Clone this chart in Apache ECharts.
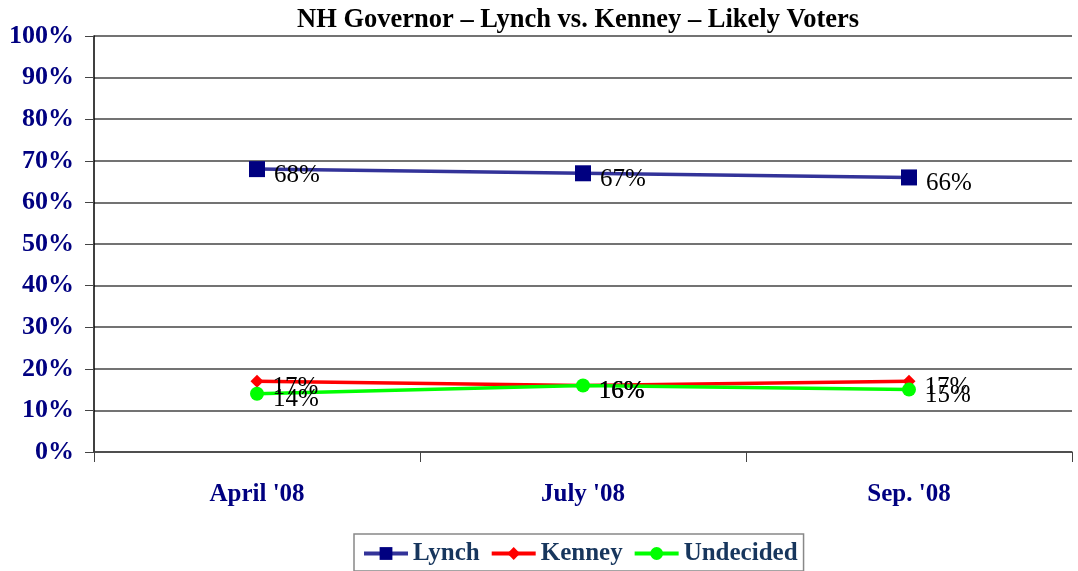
<!DOCTYPE html>
<html>
<head>
<meta charset="utf-8">
<title>NH Governor</title>
<script src="https://cdn.jsdelivr.net/npm/echarts@6/dist/echarts.min.js"></script>
<style>
  html, body { margin: 0; padding: 0; background: #fff; }
  #main { width: 1078px; height: 571px; }
</style>
</head>
<body>
<div id="main"></div>
<script type="text/javascript">
var categories = ["April '08", "July '08", "Sep. '08"];
var lynch = [68, 67, 66];
var kenney = [17, 16, 17];
var undecided = [14, 16, 15];

var serif = '"Liberation Serif", "Times New Roman", serif';
var chart = echarts.init(document.getElementById('main'));

function lineSeries(name, data, lineColor, markColor, symbol, size) {
    return {
        name: name,
        type: 'line',
        data: data,
        symbol: symbol,
        symbolSize: size,
        lineStyle: { color: lineColor, width: 3.5 },
        itemStyle: { color: markColor },
        label: {
            show: true,
            position: 'right',
            offset: [4, 6],
            formatter: '{c}%',
            fontFamily: serif,
            fontSize: 25,
            color: '#000'
        }
    };
}

chart.setOption({
    animation: false,
    title: {
        text: 'NH Governor \u2013 Lynch vs. Kenney \u2013 Likely Voters',
        left: 292,
        top: 2,
        textStyle: { fontFamily: serif, fontSize: 26.5, fontWeight: 'bold', color: '#000' }
    },
    grid: { left: 94, right: 6, top: 36, bottom: 119 },
    legend: {
        bottom: 0,
        left: 354,
        itemWidth: 44,
        itemHeight: 16,
        itemGap: 10,
        padding: [7, 6, 5, 8],
        borderColor: '#888',
        borderWidth: 1.5,
        lineStyle: { width: 4 },
        textStyle: { fontFamily: serif, fontSize: 25, fontWeight: 'bold', color: '#17365d' },
        data: ['Lynch', 'Kenney', 'Undecided']
    },
    xAxis: {
        type: 'category',
        data: categories,
        boundaryGap: true,
        axisLine: { lineStyle: { color: '#444', width: 1.5 } },
        axisTick: { show: true, length: 10, lineStyle: { color: '#444' } },
        axisLabel: {
            margin: 30,
            fontFamily: serif, fontSize: 25, fontWeight: 'bold', color: '#000080'
        }
    },
    yAxis: {
        type: 'value',
        min: 0,
        max: 100,
        interval: 10,
        axisLine: { show: true, lineStyle: { color: '#000', width: 1.5 } },
        axisTick: { show: true, length: 9, lineStyle: { color: '#444' } },
        splitLine: { lineStyle: { color: '#444', width: 1.5 } },
        axisLabel: {
            formatter: '{value}%',
            margin: 20,
            fontFamily: serif, fontSize: 26, fontWeight: 'bold', color: '#000080'
        }
    },
    series: [
        lineSeries('Lynch', lynch, '#333399', '#000080', 'rect', 16),
        lineSeries('Kenney', kenney, '#ff0000', '#ff0000', 'diamond', 13),
        lineSeries('Undecided', undecided, '#00ff00', '#00ff00', 'circle', 14)
    ]
});
</script>
</body>
</html>
